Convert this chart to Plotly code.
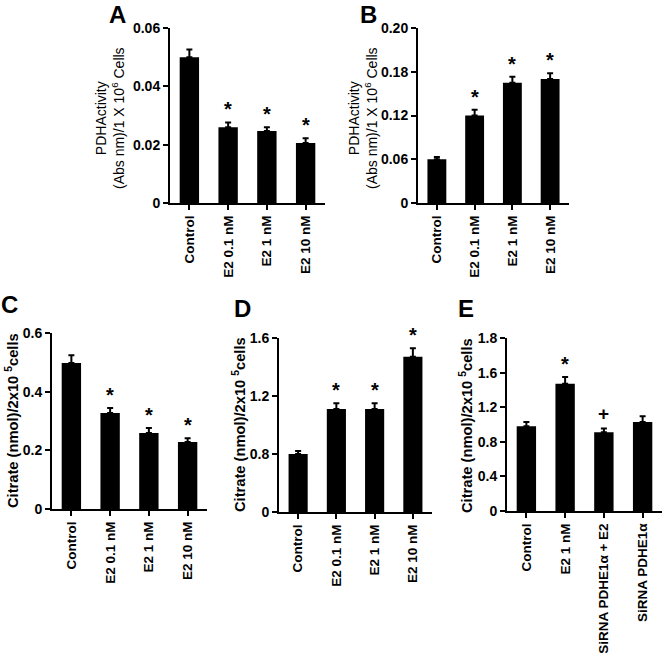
import plotly.graph_objects as go

W, H = 667, 659

# ---------------- data ----------------
cats_a = ["Control", "E2 0.1 nM", "E2 1 nM", "E2 10 nM"]
vals_a = [0.050, 0.026, 0.0247, 0.0206]
errs_a = [0.0026, 0.0016, 0.0013, 0.0016]
marks_a = ["", "*", "*", "*"]
ticks_a = [0, 0.02, 0.04, 0.06]
ticktext_a = ["0", "0.02", "0.04", "0.06"]

cats_b = ["Control", "E2 0.1 nM", "E2 1 nM", "E2 10 nM"]
vals_b = [0.060, 0.120, 0.165, 0.170]
errs_b = [0.003, 0.008, 0.008, 0.008]
marks_b = ["", "*", "*", "*"]
ticks_b = [0, 0.06, 0.12, 0.18, 0.24]
ticktext_b = ["0", "0.06", "0.12", "0.18", "0.20"]

cats_c = ["Control", "E2 0.1 nM", "E2 1 nM", "E2 10 nM"]
vals_c = [0.498, 0.327, 0.259, 0.228]
errs_c = [0.026, 0.017, 0.017, 0.013]
marks_c = ["", "*", "*", "*"]
ticks_c = [0, 0.2, 0.4, 0.6]
ticktext_c = ["0", "0.2", "0.4", "0.6"]

cats_d = ["Control", "E2 0.1 nM", "E2 1 nM", "E2 10 nM"]
vals_d = [0.80, 1.11, 1.11, 1.47]
errs_d = [0.02, 0.04, 0.04, 0.06]
marks_d = ["", "*", "*", "*"]
ticks_d = [0.4, 0.8, 1.2, 1.6]
ticktext_d = ["0", "0.8", "1.2", "1.6"]

cats_e = ["Control", "E2 1 nM", "SiRNA PDHE1α + E2", "SiRNA PDHE1α"]
vals_e = [0.98, 1.47, 0.91, 1.03]
errs_e = [0.05, 0.08, 0.045, 0.065]
marks_e = ["", "*", "+", ""]
ticks_e = [0, 0.4, 0.8, 1.2, 1.6, 2.0]
ticktext_e = ["0", "0.4", "0.8", "1.2", "1.6", "1.8"]

title_pdh = "PDHActivity<br>(Abs nm)/1 X 10<sup>6</sup> Cells"
title_cit = "<b>Citrate (nmol)/2x10 <sup>5</sup>cells</b>"

# ---------------- layout helpers ----------------
FONT = "Arial, 'Liberation Sans', sans-serif"

panels = [
    dict(cats=cats_a, vals=vals_a, errs=errs_a, marks=marks_a, tv=ticks_a, tt=ticktext_a,
         box=(170, 325, 28, 203), rng=[0, 0.06]),
    dict(cats=cats_b, vals=vals_b, errs=errs_b, marks=marks_b, tv=ticks_b, tt=ticktext_b,
         box=(418, 569, 28, 203), rng=[0, 0.24]),
    dict(cats=cats_c, vals=vals_c, errs=errs_c, marks=marks_c, tv=ticks_c, tt=ticktext_c,
         box=(52, 207, 333, 509), rng=[0, 0.6]),
    dict(cats=cats_d, vals=vals_d, errs=errs_d, marks=marks_d, tv=ticks_d, tt=ticktext_d,
         box=(279, 432, 338, 512), rng=[0.4, 1.6]),
    dict(cats=cats_e, vals=vals_e, errs=errs_e, marks=marks_e, tv=ticks_e, tt=ticktext_e,
         box=(507, 662, 338, 511), rng=[0, 2.0]),
]

fig = go.Figure()
annotations = []
layout_axes = {}

for i, p in enumerate(panels, start=1):
    sx = "" if i == 1 else str(i)
    xa, ya = "x" + sx, "y" + sx
    x0, x1, yt, yb = p["box"]
    fig.add_trace(go.Bar(
        x=p["cats"], y=p["vals"], xaxis=xa, yaxis=ya,
        marker=dict(color="black", line=dict(width=0)),
        width=0.5,
        error_y=dict(type="data", symmetric=False, array=p["errs"],
                     arrayminus=[0] * len(p["errs"]), color="black",
                     thickness=2, width=3),
        showlegend=False,
    ))
    layout_axes["xaxis" + sx] = dict(
        domain=[x0 / W, x1 / W], anchor=ya, type="category",
        range=[-0.5, len(p["cats"]) - 0.5], automargin=False,
        showline=True, linecolor="black", linewidth=2,
        ticks="outside", ticklen=5, tickwidth=2, tickcolor="black",
        tickangle=-90, showgrid=False, zeroline=False,
        tickfont=dict(family=FONT, size=13.5, color="black", weight="bold"),
    )
    layout_axes["yaxis" + sx] = dict(
        domain=[1 - yb / H, 1 - yt / H], anchor=xa, automargin=False,
        range=p["rng"], tickvals=p["tv"], ticktext=p["tt"],
        showline=True, linecolor="black", linewidth=2,
        ticks="outside", ticklen=5, tickwidth=2, tickcolor="black",
        showgrid=False, zeroline=False,
        tickfont=dict(family=FONT, size=14, color="black", weight="bold"),
    )
    for c, v, e, m in zip(p["cats"], p["vals"], p["errs"], p["marks"]):
        if m:
            annotations.append(dict(
                x=c, y=v + e, xref=xa, yref=ya, text="<b>%s</b>" % m,
                showarrow=False, yanchor="bottom", yshift=(0 if m == "*" else 2),
                font=dict(family=FONT, size=20 if m == "*" else 19, color="black"),
            ))

# axis titles
for (cx, cy, txt, fs) in [(110, 118, title_pdh, 14), (363, 118, title_pdh, 14),
                          (12, 421, title_cit, 14.7), (239, 425, title_cit, 14.7),
                          (466, 425, title_cit, 14.7)]:
    annotations.append(dict(
        x=cx / W, y=1 - cy / H, xref="paper", yref="paper", text=txt,
        textangle=-90, showarrow=False, xanchor="center", yanchor="middle",
        font=dict(family=FONT, size=fs, color="black"),
    ))

# panel letters
for (cx, cy, letter, ya_) in [(117, 0, "A", "top"), (368, 0, "B", "top"),
                              (9, 305, "C", "middle"), (242, 309, "D", "middle"),
                              (466, 309, "E", "middle")]:
    annotations.append(dict(
        x=cx / W, y=1 - cy / H, xref="paper", yref="paper", text="<b>%s</b>" % letter,
        showarrow=False, xanchor="center", yanchor=ya_, borderpad=0,
        font=dict(family=FONT, size=24, color="black"),
    ))

fig.update_layout(
    width=W, height=H, margin=dict(l=0, r=0, t=0, b=0, autoexpand=False),
    paper_bgcolor="white", plot_bgcolor="white",
    bargap=0.5, annotations=annotations, **layout_axes,
)

fig.write_html("out.html", config={"displayModeBar": False},
               post_script="document.body.style.margin='0';document.body.style.overflow='hidden';")
